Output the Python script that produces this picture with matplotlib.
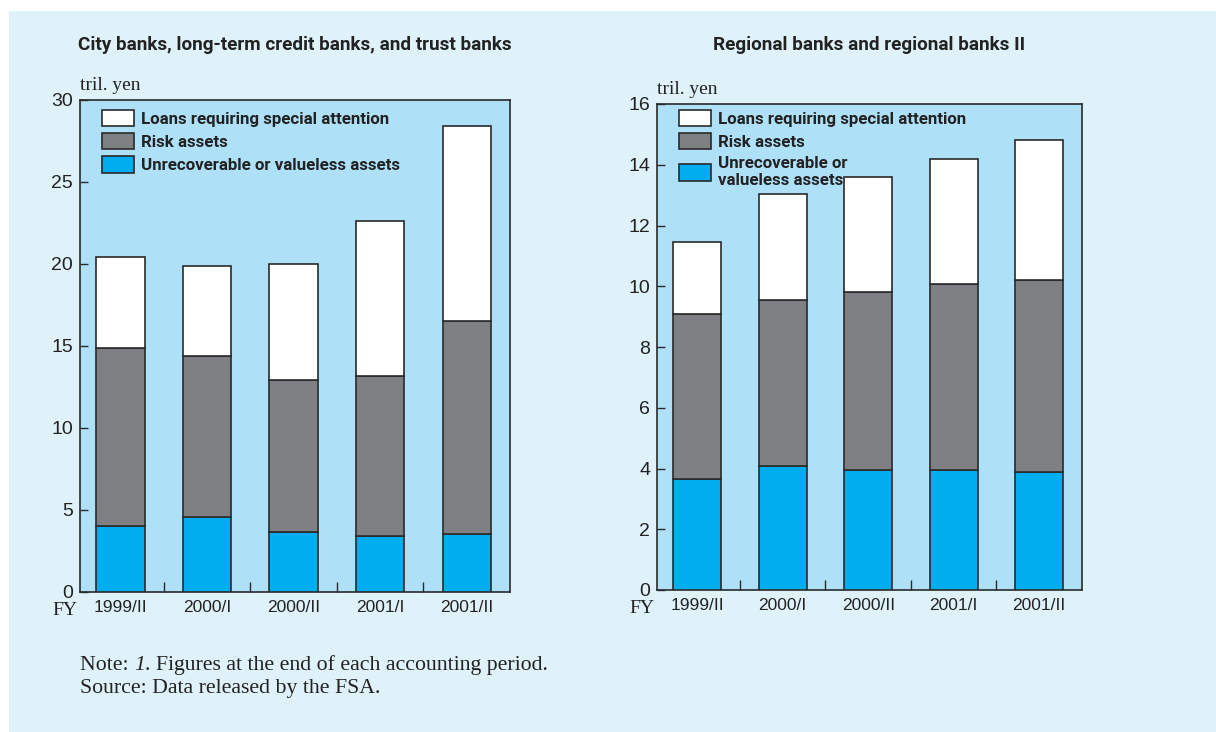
import matplotlib
matplotlib.use("Agg")
import matplotlib.pyplot as plt
from matplotlib.patches import Rectangle, Patch
import numpy as np

periods = ["1999/II", "2000/I", "2000/II", "2001/I", "2001/II"]

# left panel: city, long-term credit and trust banks (tril. yen)
city_unrecoverable = [4.0, 4.6, 3.65, 3.4, 3.55]
city_risk = [10.9, 9.8, 9.25, 9.8, 12.95]
city_special = [5.5, 5.5, 7.1, 9.4, 11.9]

# right panel: regional banks and regional banks II (tril. yen)
reg_unrecoverable = [3.65, 4.08, 3.95, 3.95, 3.88]
reg_risk = [5.43, 5.46, 5.85, 6.12, 6.32]
reg_special = [2.37, 3.49, 3.8, 4.13, 4.6]

W, H = 1216, 732
BG = "#dff2fa"
PANEL = "#aee0f8"
BLUE = "#00adee"
GRAY = "#7f8084"
EDGE = "#2a2a2a"
INK = "#222222"
COND = "Roboto"
SANS = "Liberation Sans"
SERIF = "Liberation Serif"

fig = plt.figure(figsize=(W / 100, H / 100), dpi=100)
fig.patch.set_facecolor("white")
fig.add_artist(Rectangle((9 / W, 0), 1, 1 - 11 / H, transform=fig.transFigure,
                         facecolor=BG, edgecolor="none", zorder=-10))


def panel(box, title, blue, gray, white, ymax, ystep, legend_labels, leg_x):
    # box = (left, top, right, bottom) in pixels from the top-left corner
    l, t, r, b = box
    ax = fig.add_axes([l / W, 1 - b / H, (r - l) / W, (b - t) / H])
    ax.set_facecolor(PANEL)
    x = np.arange(len(periods))
    kw = dict(width=0.56, edgecolor=EDGE, linewidth=1.2, zorder=3)
    ax.bar(x, blue, color=BLUE, **kw)
    ax.bar(x, gray, bottom=blue, color=GRAY, **kw)
    ax.bar(x, white, bottom=np.add(blue, gray), color="white", **kw)
    ax.set_xlim(-0.47, 4.5)
    ax.set_ylim(0, ymax)
    ax.set_yticks(np.arange(0, ymax + 0.1, ystep))
    ax.tick_params(axis="y", direction="in", length=6, width=1, color=EDGE,
                   labelsize=14, pad=5)
    for lab in ax.get_yticklabels():
        lab.set_fontfamily(SANS)
        lab.set_color(INK)
    # labels at bar centres, small ticks between the bars
    ax.set_xticks(x)
    ax.set_xticklabels(periods, fontfamily=SANS, fontsize=12.5, color=INK)
    ax.tick_params(axis="x", length=0, pad=6)
    ax.set_xticks(x[:-1] + 0.5, minor=True)
    ax.tick_params(axis="x", which="minor", direction="in", length=7, width=1, color=EDGE)
    for s in ax.spines.values():
        s.set_color(EDGE)
        s.set_linewidth(1.2)
    ax.text(-0.035, -0.021, "FY", transform=ax.transAxes, fontfamily=SERIF,
            fontsize=14, ha="center", va="top", color=INK)
    ax.text(0.0, 1.012, "tril. yen", transform=ax.transAxes, fontfamily=SERIF,
            fontsize=14, ha="left", va="bottom", color=INK)
    fig.text((l + r) / 2 / W, 1 - 45 / H, title, fontfamily=COND, fontweight="bold",
             fontsize=13.6, ha="center", va="center", color=INK)
    handles = [Patch(facecolor="white", edgecolor=EDGE, linewidth=1.2),
               Patch(facecolor=GRAY, edgecolor=EDGE, linewidth=1.2),
               Patch(facecolor=BLUE, edgecolor=EDGE, linewidth=1.2)]
    leg = ax.legend(handles, legend_labels, loc="upper left",
                    bbox_to_anchor=((leg_x - 7) / W, 1 - 103 / H),
                    bbox_transform=fig.transFigure, borderaxespad=0,
                    frameon=False, handlelength=1.9, handleheight=1.1,
                    handletextpad=0.4, labelspacing=0.38,
                    prop=dict(family=COND, weight="bold", size=12.2))
    for txt in leg.get_texts():
        txt.set_color(INK)
        txt.set_linespacing(1.15)
    return ax


panel((80, 100, 510, 592),
      "City banks, long-term credit banks, and trust banks",
      city_unrecoverable, city_risk, city_special, 30, 5,
      ["Loans requiring special attention", "Risk assets",
       "Unrecoverable or valueless assets"], 102)

panel((657, 104, 1082, 590),
      "Regional banks and regional banks II",
      reg_unrecoverable, reg_risk, reg_special, 16, 2,
      ["Loans requiring special attention", "Risk assets",
       "Unrecoverable or\nvalueless assets"], 679)

# note line with an italic footnote number, placed piece by piece
y_note = 1 - 665 / H
fig.canvas.draw()
rend = fig.canvas.get_renderer()
xpos = 80 / W
for piece, style in [("Note: ", "normal"), ("1", "italic"),
                     (". Figures at the end of each accounting period.", "normal")]:
    t = fig.text(xpos, y_note, piece, fontfamily=SERIF, fontstyle=style,
                 fontsize=15.7, va="center", color=INK)
    xpos = t.get_window_extent(rend).x1 / fig.bbox.width
fig.text(80 / W, 1 - 689 / H, "Source: Data released by the FSA.",
         fontfamily=SERIF, fontsize=15.7, va="center", color=INK)

fig.savefig("out.png", dpi=100, facecolor=fig.get_facecolor())
